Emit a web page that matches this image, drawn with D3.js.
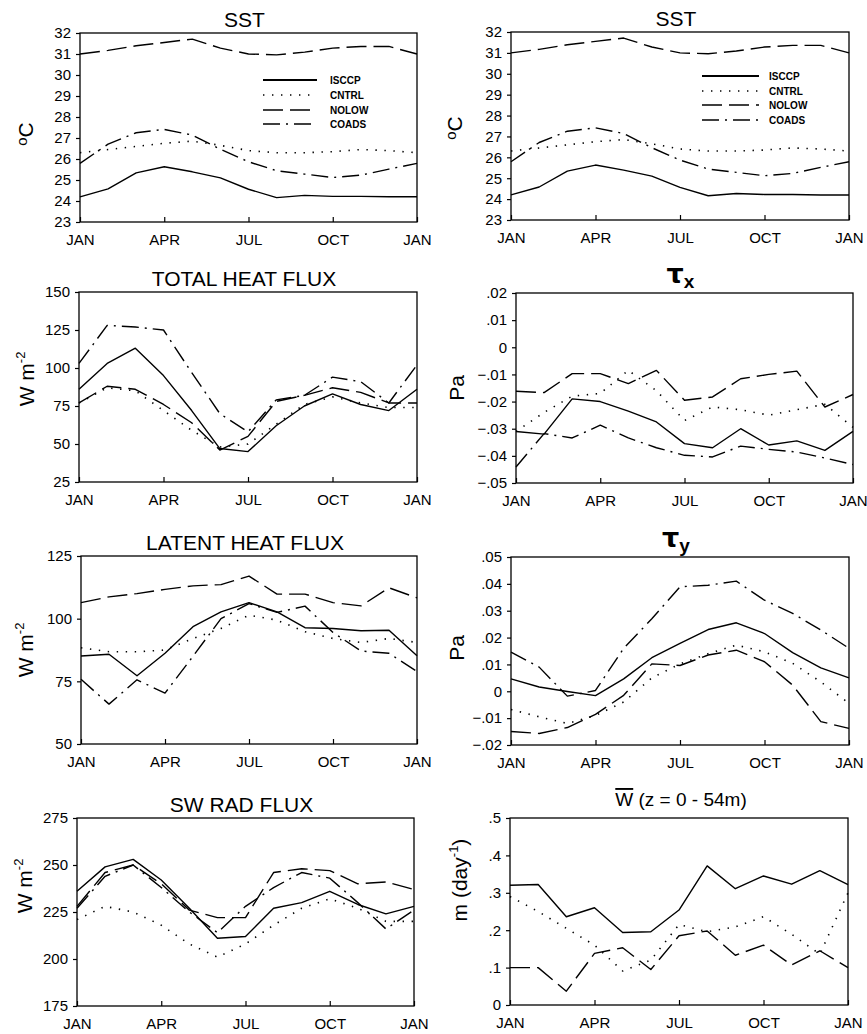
<!DOCTYPE html>
<html><head><meta charset="utf-8">
<script src="https://cdn.jsdelivr.net/npm/d3@7"></script>
<style>
body{margin:0;background:#fff}
svg{display:block;background:#fff}
text{font-family:"Liberation Sans",Arial,Helvetica,sans-serif;fill:#000}
</style>
</head><body>
<svg id="chart" width="867" height="1034"></svg>
<script>
// ---------- data ----------
const months = [0,1,2,3,4,5,6,7,8,9,10,11,12];
const monthTicks = [0,3,6,9,12];
const monthLabels = ["JAN","APR","JUL","OCT","JAN"];
const seriesNames = ["ISCCP","CNTRL","NOLOW","COADS"];

const sstIsccp = [24.2,24.58,25.34,25.63,25.39,25.1,24.56,24.16,24.27,24.22,24.22,24.2,24.2];
const sstCntrl = [26.3,26.45,26.6,26.75,26.85,26.65,26.4,26.3,26.3,26.35,26.45,26.4,26.3];
const sstNolow = [31.0,31.17,31.39,31.55,31.71,31.28,31.0,30.96,31.09,31.28,31.36,31.36,31.0];
const sstCoads = [25.79,26.71,27.25,27.41,27.14,26.46,25.87,25.44,25.28,25.12,25.23,25.52,25.79];

const thfIsccp = [86,103,113,95,72,47,45,62,75,83,76,72,86];
const thfCntrl = [77,87,85,72,59,48,50,63,76,81,77,74,74];
const thfNolow = [77,88,86,76,64,46,55,78,82,87,84,77,77];
const thfCoads = [103,128,127,125,97,70,58,79,82,94,91,77,102];

const txIsccp = [-0.031,-0.032,-0.019,-0.020,-0.0235,-0.0275,-0.0355,-0.037,-0.030,-0.036,-0.0345,-0.038,-0.031];
const txCntrl = [-0.031,-0.024,-0.018,-0.017,-0.0085,-0.016,-0.027,-0.022,-0.023,-0.025,-0.023,-0.021,-0.0295];
const txNolow = [-0.0162,-0.0167,-0.0097,-0.0097,-0.0134,-0.0085,-0.0195,-0.0183,-0.0116,-0.010,-0.0088,-0.022,-0.0174];
const txCoads = [-0.0441,-0.0318,-0.0334,-0.0287,-0.0334,-0.037,-0.0398,-0.0404,-0.0364,-0.0376,-0.0386,-0.0408,-0.0432];

const lhIsccp = [85.1,85.8,77.2,86.2,96.8,102.7,106.4,102.7,96.4,96.1,95.2,95.4,85.2];
const lhCntrl = [88.4,86.8,86.8,87.5,92.1,96.1,101.4,99.4,94.8,92.1,90.5,92.1,90.5];
const lhNolow = [106.4,108.7,110,111.7,113.1,113.6,117,109.8,109.8,106.4,105.1,112.3,108.3];
const lhCoads = [75.8,65.9,75.6,70.3,85,100,106,102.5,105,94.5,87.1,86.2,78.9];

const tyIsccp = [0.0046,0.0016,-0.0001,-0.0016,0.0046,0.0125,0.0178,0.023,0.0255,0.0215,0.0144,0.0087,0.005];
const tyCntrl = [-0.0068,-0.0095,-0.012,-0.009,-0.004,0.005,0.0102,0.014,0.0172,0.0147,0.0104,0.0035,-0.0045];
const tyNolow = [-0.015,-0.0157,-0.0135,-0.0086,-0.0015,0.0102,0.0096,0.0135,0.0153,0.011,0.0023,-0.0113,-0.0138];
const tyCoads = [0.0146,0.009,-0.0018,0.0003,0.016,0.027,0.0389,0.0395,0.041,0.0339,0.029,0.0228,0.016];

const swIsccp = [236,249,253,242,227,211,212,227,230,236,229,224,228];
const swCntrl = [221,228,225,218,208,201,208,218,227,232,227,220,220];
const swNolow = [228,246,250,240,226,222,222,246,248,247,240,241,237];
const swCoads = [227,244,250,238,225,214,228,238,246,243,230,216,226];

const wIsccp = [0.32,0.322,0.236,0.26,0.194,0.196,0.254,0.372,0.311,0.345,0.323,0.359,0.322];
const wCntrl = [0.29,0.25,0.205,0.16,0.091,0.12,0.215,0.196,0.209,0.236,0.189,0.136,0.30];
const wNolow = [0.1,0.1,0.037,0.138,0.153,0.095,0.185,0.198,0.133,0.16,0.107,0.145,0.1];

const sstTicks = [23,24,25,26,27,28,29,30,31,32];
const thfTicks = [25,50,75,100,125,150];
const txTicks = [-0.05,-0.04,-0.03,-0.02,-0.01,0,0.01,0.02];
const lhTicks = [50,75,100,125];
const tyTicks = [-0.02,-0.01,0,0.01,0.02,0.03,0.04,0.05];
const swTicks = [175,200,225,250,275];
const wTicks = [0,0.1,0.2,0.3,0.4,0.5];

// ---------- styles / layout ----------
const lineStyles = [
  {w:1.4, dash:null},
  {w:1.6, dash:"1.4,7.6"},
  {w:1.4, dash:"20,7"},
  {w:1.4, dash:"17,6,2,6"}
];
const intFmt = d => String(d);
const decFmt = d => d === 0 ? "0" : (d < 0 ? "\u2212" : "") + Math.abs(d).toFixed(2).replace(/^0/, "");
const dec1Fmt = d => d === 0 ? "0" : Math.abs(d).toFixed(1).replace(/^0/, "");

const panels = [
  {box:[80,417,33,222], dom:[23,32], ticks:sstTicks, fmt:intFmt, series:[sstIsccp,sstCntrl,sstNolow,sstCoads],
   title:"SST", ylab:"deg", ylx:33, yly:134, legend:{x1:263,x2:317,tx:330,ys:[80,95,110,124]}},
  {box:[511,849,32,220], dom:[23,32], ticks:sstTicks, fmt:intFmt, series:[sstIsccp,sstCntrl,sstNolow,sstCoads],
   title:"SST", ylab:"deg", ylx:462, yly:128, legend:{x1:702,x2:759,tx:769,ys:[76,91,105,120]}},
  {box:[79,417,292,482], dom:[25,150], ticks:thfTicks, fmt:intFmt, series:[thfIsccp,thfCntrl,thfNolow,thfCoads],
   title:"TOTAL HEAT FLUX", ylab:"wm2", ylx:34, yly:379},
  {box:[516,853,293,483], dom:[-0.05,0.02], ticks:txTicks, fmt:decFmt, series:[txIsccp,txCntrl,txNolow,txCoads],
   title:"taux", ylab:"Pa", ylx:464, yly:388},
  {box:[81,417,556,744], dom:[50,125], ticks:lhTicks, fmt:intFmt, series:[lhIsccp,lhCntrl,lhNolow,lhCoads],
   title:"LATENT HEAT FLUX", ylab:"wm2", ylx:33, yly:650},
  {box:[511,849,557,745], dom:[-0.02,0.05], ticks:tyTicks, fmt:decFmt, series:[tyIsccp,tyCntrl,tyNolow,tyCoads],
   title:"tauy", ylab:"Pa", ylx:464, yly:648},
  {box:[77,414,818,1006], dom:[175,275], ticks:swTicks, fmt:intFmt, series:[swIsccp,swCntrl,swNolow,swCoads],
   title:"SW RAD FLUX", ylab:"wm2", ylx:32, yly:886},
  {box:[510,848,818,1005], dom:[0,0.5], ticks:wTicks, fmt:dec1Fmt, series:[wIsccp,wCntrl,wNolow],
   title:"wbar", ylab:"mday", ylx:467, yly:880}
];

// ---------- drawing ----------
const svg = d3.select("#chart");

panels.forEach(p => {
  const [l, r, t, b] = p.box;
  const x = d3.scaleLinear().domain([0, 12]).range([l, r]);
  const y = d3.scaleLinear().domain(p.dom).range([b, t]);
  const g = svg.append("g");

  // axes
  const ax = g.append("g").attr("transform", `translate(0,${b})`)
    .call(d3.axisBottom(x).tickValues(monthTicks).tickSize(-5).tickPadding(12)
      .tickFormat((d, i) => monthLabels[i]));
  const ay = g.append("g").attr("transform", `translate(${l},0)`)
    .call(d3.axisLeft(y).tickValues(p.ticks).tickSize(4).tickPadding(5).tickFormat(p.fmt));
  [ax, ay].forEach(a => {
    a.select(".domain").remove();
    a.selectAll("line").attr("stroke", "#000").attr("stroke-width", 1.2);
    a.selectAll("text").attr("font-size", 15).attr("font-family", "Liberation Sans, Arial, sans-serif").attr("fill", "#000");
  });

  // frame
  g.append("rect").attr("x", l).attr("y", t).attr("width", r - l).attr("height", b - t)
    .attr("fill", "none").attr("stroke", "#000").attr("stroke-width", 1.3);

  // lines
  const line = d3.line().x((d, i) => x(months[i])).y(d => y(d));
  p.series.forEach((s, k) => {
    const st = lineStyles[k];
    g.append("path").datum(s).attr("d", line).attr("fill", "none")
      .attr("stroke", "#000").attr("stroke-width", st.w)
      .attr("stroke-dasharray", st.dash)
      .attr("stroke-linejoin", "round");
  });

  // title
  const cx = (l + r) / 2 - 4;
  if (p.title === "taux" || p.title === "tauy") {
    const tt = g.append("text").attr("x", cx).attr("y", t - 10).attr("text-anchor", "middle");
    tt.append("tspan").attr("font-family", "DejaVu Sans, sans-serif").attr("font-size", 27).attr("font-weight", "bold").text("\u03C4");
    tt.append("tspan").attr("font-size", 19).attr("font-weight", "bold").attr("dy", 5).text(p.title === "taux" ? "x" : "y");
  } else if (p.title === "wbar") {
    const tt = g.append("text").attr("x", cx + 6).attr("y", t - 12).attr("text-anchor", "middle").attr("font-size", 19);
    tt.append("tspan").style("text-decoration", "overline").text("W");
    tt.append("tspan").text(" (z = 0 - 54m)");
  } else {
    g.append("text").attr("x", cx).attr("y", t - 6).attr("text-anchor", "middle")
      .attr("font-size", 21).text(p.title);
  }

  // y label
  const yl = g.append("text").attr("transform", `translate(${p.ylx},${p.yly}) rotate(-90)`)
    .attr("text-anchor", "middle").attr("font-size", 21);
  if (p.ylab === "deg") {
    yl.append("tspan").attr("font-size", 15).attr("dy", -6).text("o");
    yl.append("tspan").attr("dy", 6).text("C");
  } else if (p.ylab === "wm2") {
    yl.text("W m");
    yl.append("tspan").attr("font-size", 13).attr("dy", -9).text("-2");
  } else if (p.ylab === "Pa") {
    yl.text("Pa");
  } else if (p.ylab === "mday") {
    yl.text("m (day");
    yl.append("tspan").attr("font-size", 13).attr("dy", -9).text("-1");
    yl.append("tspan").attr("dy", 9).text(")");
  }

  // legend
  if (p.legend) {
    const L = p.legend;
    seriesNames.forEach((name, k) => {
      const st = lineStyles[k];
      const yy = L.ys[k];
      g.append("line").attr("x1", L.x1).attr("x2", L.x2).attr("y1", yy).attr("y2", yy)
        .attr("stroke", "#000").attr("stroke-width", k === 0 ? 1.8 : st.w)
        .attr("stroke-dasharray", st.dash);
      g.append("text").attr("x", L.tx).attr("y", yy + 4).attr("font-size", 10)
        .attr("font-weight", "bold").text(name);
    });
  }
});
</script>
</body></html>
